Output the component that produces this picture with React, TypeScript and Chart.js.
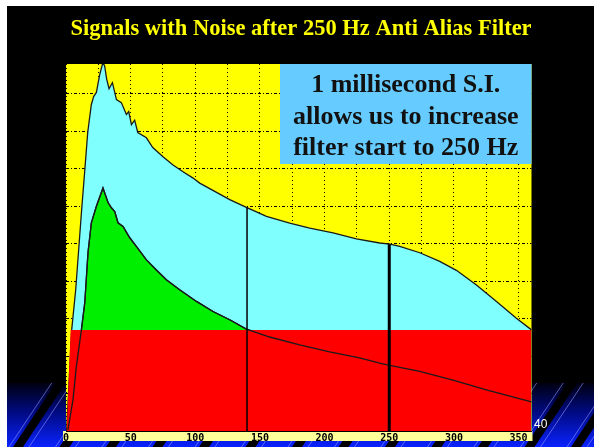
import React, { useEffect, useRef } from 'react';
import { Chart, registerables } from 'chart.js';

Chart.register(...registerables);

// ---------- text ----------
const TITLE = 'Signals with Noise after 250 Hz Anti Alias Filter';
const NOTE_LINES = ['1 millisecond S.I.', 'allows us to increase', 'filter start to 250 Hz'];
const PAGE_NO = '40';

// ---------- data (frequency in Hz, level in grid divisions) ----------
const signalHz = [0.5, 4.4, 7.5, 9.8, 12.1, 14.5, 16.8, 19.6, 21.4, 23.5, 26.1, 28.6, 29.9, 31.5, 33.3, 35.9, 39.0, 42.8, 46.7, 48.5, 50.6, 53.1, 55.5, 62.2, 67.1, 74.8, 82.5, 90.2, 98.0, 103.4, 115.0, 126.6, 139.5, 155.0, 173.0, 188.5, 206.5, 224.6, 242.6, 250.4, 258.1, 273.6, 289.0, 301.9, 317.4, 332.9, 348.3, 360];
const signalLevel = [0, 2.7, 3.77, 4.84, 5.91, 6.95, 7.97, 8.72, 8.93, 9.04, 9.52, 9.85, 9.74, 9.39, 9.14, 9.3, 8.85, 8.77, 8.45, 8.53, 8.18, 8.3, 7.97, 7.83, 7.57, 7.33, 7.11, 6.93, 6.76, 6.62, 6.4, 6.18, 5.97, 5.73, 5.55, 5.42, 5.29, 5.13, 5.02, 4.99, 4.93, 4.76, 4.53, 4.29, 3.9, 3.46, 3.01, 2.7];

const echoHz = [1.5, 5.4, 8.0, 11.9, 14.5, 17.0, 19.6, 23.5, 28.6, 32.5, 35.1, 37.7, 40.2, 44.1, 49.3, 54.4, 62.2, 69.9, 77.6, 87.9, 100.9, 113.7, 126.6, 139.5, 157.5, 180.7, 203.9, 227.1, 242.6, 250.4, 273.6, 299.3, 325.1, 360];
const echoLevel = [0.03, 0.83, 1.72, 2.7, 3.42, 4.76, 5.56, 6.0, 6.49, 6.1, 5.96, 5.86, 5.56, 5.46, 5.16, 4.93, 4.57, 4.3, 4.04, 3.77, 3.46, 3.19, 2.97, 2.72, 2.51, 2.3, 2.11, 1.95, 1.81, 1.75, 1.59, 1.36, 1.1, 0.78];

const noiseHz = [0.5, 3.6, 360];
const noiseLevel = [0, 2.7, 2.7];

const markerHz = [140, 250];
const markerTop = [5.97, 4.99];

const X_MIN = 0;
const X_MAX = 360;
const Y_MAX = 9.8;

const pts = (xs: number[], ys: number[]) => xs.map((x, i) => ({ x, y: ys[i] }));

const slidePlugin = {
  id: 'slide',
  beforeDraw(chart: any) {
    const { ctx, chartArea: ca, width, height } = chart;
    ctx.save();
    ctx.fillStyle = '#ffffff';
    ctx.fillRect(0, 0, width, height);
    ctx.fillStyle = '#000000';
    ctx.fillRect(7, 6, width - 7, height - 6);
    // bottom blue band
    const top = 383;
    const g = ctx.createLinearGradient(0, top, 0, height);
    g.addColorStop(0, '#000010');
    g.addColorStop(0.45, '#000a80');
    g.addColorStop(1, '#0a22ff');
    ctx.fillStyle = g;
    ctx.fillRect(7, top, width - 7, height - top);
    ctx.save();
    ctx.beginPath();
    ctx.rect(7, top, width - 7, height - top);
    ctx.clip();
    const slope = 0.667;
    const h = height - top;
    for (let k = 0; k < 14; k++) {
      const b = 18 + 46.5 * k;
      ctx.fillStyle = '#000000';
      ctx.beginPath();
      ctx.moveTo(b - 5, height);
      ctx.lineTo(b + 5, height);
      ctx.lineTo(b + 5 + slope * h, top);
      ctx.lineTo(b - 5 + slope * h, top);
      ctx.closePath();
      ctx.fill();
      ctx.strokeStyle = 'rgba(140,150,255,0.6)';
      ctx.lineWidth = 1;
      for (const off of [-9, 11]) {
        ctx.beginPath();
        ctx.moveTo(b + off, height);
        ctx.lineTo(b + off + slope * h, top);
        ctx.stroke();
      }
    }
    ctx.restore();
    // plot background
    ctx.fillStyle = '#ffff00';
    ctx.fillRect(ca.left, ca.top, ca.right - ca.left, ca.bottom - ca.top);
    // axis label strip
    ctx.fillStyle = '#ffff99';
    ctx.fillRect(63, ca.bottom, ca.right - 63 + 1, 10);
    ctx.restore();
  },
  afterDraw(chart: any) {
    const { ctx, chartArea: ca } = chart;
    ctx.save();
    ctx.fillStyle = '#ffff00';
    ctx.font = 'bold 22.5px "Liberation Serif"';
    ctx.textAlign = 'center';
    ctx.textBaseline = 'alphabetic';
    ctx.fillText(TITLE, 301, 35);
    // note box
    ctx.fillStyle = '#66ccff';
    ctx.fillRect(280, ca.top, ca.right - 280, 100);
    ctx.fillStyle = '#111111';
    ctx.font = 'bold 26px "Liberation Serif"';
    const cx = (280 + ca.right) / 2;
    const bases = [92, 124, 155];
    NOTE_LINES.forEach((t, i) => ctx.fillText(t, cx, bases[i]));
    // page number
    ctx.fillStyle = '#ffffff';
    ctx.font = '12px "Liberation Sans"';
    ctx.textAlign = 'left';
    ctx.fillText(PAGE_NO, 534, 428);
    ctx.restore();
  },
};

export default function App() {
  const ref = useRef<HTMLCanvasElement | null>(null);
  useEffect(() => {
    if (!ref.current) return;
    const lineBase = { pointRadius: 0, tension: 0, showLine: true };
    const chart = new Chart(ref.current, {
      type: 'line',
      data: {
        datasets: [
          {
            ...lineBase,
            label: 'signal',
            data: pts(signalHz, signalLevel),
            borderColor: '#1a1a1a',
            borderWidth: 1.3,
            backgroundColor: '#80ffff',
            fill: 'origin',
            order: 6,
          },
          {
            ...lineBase,
            label: 'echo',
            data: pts(echoHz, echoLevel),
            borderColor: '#1a1a1a',
            borderWidth: 1.3,
            backgroundColor: '#00ee00',
            fill: 'origin',
            order: 5,
          },
          {
            ...lineBase,
            label: 'noise',
            data: pts(noiseHz, noiseLevel),
            borderColor: 'rgba(0,0,0,0)',
            borderWidth: 0,
            backgroundColor: '#ff0000',
            fill: 'origin',
            order: 4,
          },
          {
            ...lineBase,
            label: 'echo line',
            data: pts(echoHz, echoLevel),
            borderColor: '#1a1a1a',
            borderWidth: 1.3,
            fill: false,
            order: 3,
          },
          {
            ...lineBase,
            label: 'marker 1',
            data: [{ x: markerHz[0], y: 0 }, { x: markerHz[0], y: markerTop[0] }],
            borderColor: '#000000',
            borderWidth: 1.5,
            fill: false,
            order: 2,
          },
          {
            ...lineBase,
            label: 'marker 2',
            data: [{ x: markerHz[1], y: 0 }, { x: markerHz[1], y: markerTop[1] }],
            borderColor: '#000000',
            borderWidth: 3,
            fill: false,
            order: 1,
          },
        ],
      },
      options: {
        animation: false,
        responsive: false,
        events: [],
        layout: { padding: { left: 66, right: 62.5, top: 64, bottom: 6 } },
        plugins: { legend: { display: false }, tooltip: { enabled: false }, title: { display: false } },
        scales: {
          x: {
            type: 'linear',
            min: X_MIN,
            max: X_MAX,
            z: 1,
            afterFit: (s: any) => { s.height = 10; },
            afterBuildTicks: (s: any) => { s.ticks = s.ticks.filter((t: any) => t.value % 25 === 0); },
            ticks: {
              stepSize: 25,
              includeBounds: false,
              autoSkip: false,
              maxRotation: 0,
              padding: 1,
              color: '#000000',
              font: { family: '"DejaVu Sans Mono"', weight: 'bold', size: 10 },
              callback: (v: any) => (Number(v) % 50 === 0 ? String(v) : ''),
            },
            grid: { color: '#000000', lineWidth: 1, drawTicks: false, tickLength: 0 },
            border: { display: true, color: '#000000', width: 1, dash: [1, 3] },
          },
          y: {
            type: 'linear',
            min: 0,
            max: Y_MAX,
            z: 1,
            afterFit: (s: any) => { s.width = 0; },
            afterBuildTicks: (s: any) => { s.ticks = s.ticks.filter((t: any) => Number.isInteger(t.value) && t.value > 0); },
            ticks: { stepSize: 1, includeBounds: false, display: false },
            grid: { color: '#000000', lineWidth: 1, drawTicks: false, tickLength: 0 },
            border: { display: false, dash: [3, 2, 1, 2] },
          },
        },
      },
      plugins: [slidePlugin],
    } as any);
    return () => chart.destroy();
  }, []);
  return (
    <div style={{ position: 'fixed', left: 0, top: 0, width: 594, height: 447 }}>
      <canvas ref={ref} width={594} height={447} style={{ display: 'block' }} />
    </div>
  );
}
